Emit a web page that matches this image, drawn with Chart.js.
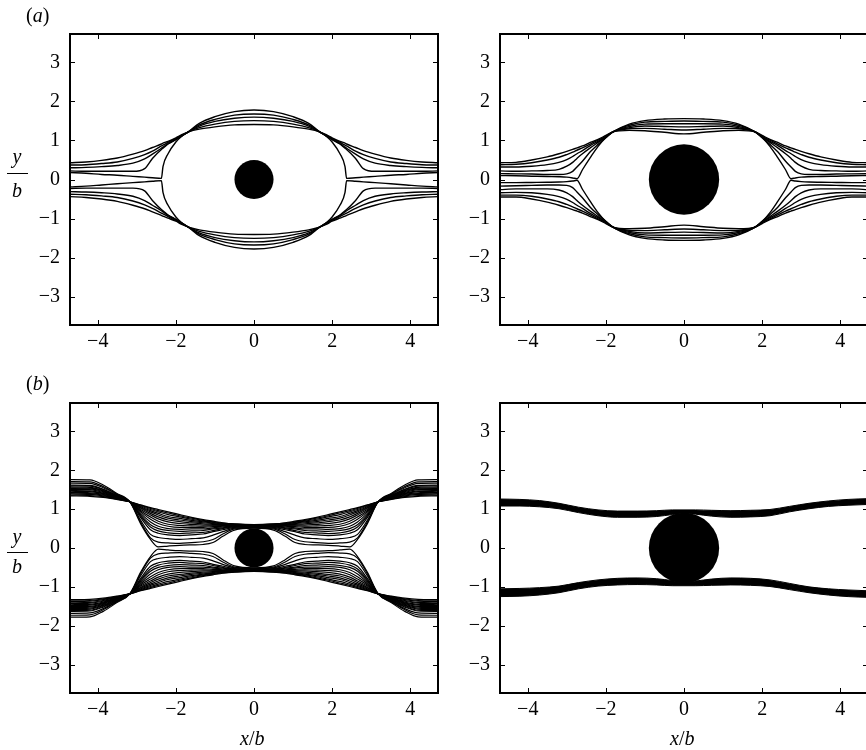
<!DOCTYPE html>
<html>
<head>
<meta charset="utf-8">
<script src="https://cdn.jsdelivr.net/npm/chart.js@4"></script>
<style>
  body { margin: 0; width: 866px; height: 750px; overflow: hidden; position: relative; background: #fff;
         font-family: 'Liberation Serif', 'Times New Roman', serif; color: #000; }
  canvas { position: absolute; }
  .t { position: absolute; font-size: 20px; line-height: 20px; white-space: nowrap; }
  .c { width: 30px; text-align: center; }
  .bar { position: absolute; height: 1px; background: #000; }
</style>
</head>
<body>
<canvas id="a1" width="440" height="360" style="left:0;top:0"></canvas>
<canvas id="a2" width="440" height="360" style="left:430px;top:0"></canvas>
<canvas id="b1" width="440" height="360" style="left:0;top:369px"></canvas>
<canvas id="b2" width="440" height="360" style="left:430px;top:369px"></canvas>

<div class="t" style="left:26px;top:5px">(<i>a</i>)</div>
<div class="t" style="left:26px;top:373px">(<i>b</i>)</div>

<div class="t c" style="left:2px;top:146px"><i>y</i></div>
<div class="bar" style="left:7px;top:173px;width:21px"></div>
<div class="t c" style="left:2px;top:180px"><i>b</i></div>

<div class="t c" style="left:2px;top:526px"><i>y</i></div>
<div class="bar" style="left:7px;top:552px;width:21px"></div>
<div class="t c" style="left:2px;top:556px"><i>b</i></div>

<div class="t" style="left:240px;top:728px"><i>x</i>/<i>b</i></div>
<div class="t" style="left:670px;top:728px"><i>x</i>/<i>b</i></div>

<script>
// axes
const xMin = -4.71, xMax = 4.71;
const yMin = -3.73, yMax = 3.73;
const xTicks = [-4, -2, 0, 2, 4];
const yTicks = [-3, -2, -1, 0, 1, 2, 3];

// cylinder radii (a-left, a-right, b-left, b-right)
const radii = [0.5, 0.9, 0.5, 0.9];

// (a) left
const a1x = [-4.71,-4.3,-3.9,-3.5,-3.1,-2.8,-2.6,-2.37,-2.33,-2.2,-2.0,-1.85,-1.68,-1.4,-1.0,-0.5,0,0.5,1.0,1.4,1.68,1.85,2.0,2.2,2.33,2.37,2.6,2.8,3.1,3.5,3.9,4.3,4.71];
const a1Up1 = [0.43,0.45,0.49,0.55,0.65,0.74,0.82,0.91,0.93,0.98,1.07,1.15,1.22,1.29,1.35,1.40,1.41,1.40,1.35,1.29,1.22,1.15,1.07,0.98,0.93,0.91,0.82,0.74,0.65,0.55,0.49,0.45,0.43];
const a1Up2 = [0.37,0.38,0.41,0.45,0.54,0.64,0.73,0.86,0.88,0.95,1.05,1.13,1.22,1.33,1.42,1.49,1.51,1.49,1.42,1.33,1.22,1.13,1.05,0.95,0.88,0.86,0.73,0.64,0.54,0.45,0.41,0.38,0.37];
const a1Up3 = [0.30,0.31,0.33,0.36,0.42,0.53,0.65,0.80,0.83,0.92,1.03,1.12,1.22,1.37,1.49,1.57,1.60,1.57,1.49,1.37,1.22,1.12,1.03,0.92,0.83,0.80,0.65,0.53,0.42,0.36,0.33,0.31,0.30];
const a1Up4 = [0.22,0.21,0.21,0.21,0.21,0.28,0.54,0.77,0.80,0.91,1.02,1.11,1.22,1.40,1.54,1.65,1.68,1.65,1.54,1.40,1.22,1.11,1.02,0.91,0.80,0.77,0.54,0.28,0.21,0.21,0.21,0.21,0.22];
const a1Up5 = [0.18,0.16,0.13,0.11,0.08,0.06,0.045,0.03,0.33,0.66,0.96,1.11,1.22,1.44,1.61,1.74,1.78,1.74,1.61,1.44,1.22,1.11,0.96,0.66,0.33,0.03,0.045,0.06,0.08,0.11,0.13,0.16,0.18];
const a1Lo1 = [-0.44,-0.46,-0.50,-0.56,-0.66,-0.75,-0.83,-0.92,-0.94,-0.99,-1.07,-1.15,-1.22,-1.29,-1.35,-1.40,-1.41,-1.40,-1.35,-1.29,-1.22,-1.15,-1.07,-0.99,-0.94,-0.92,-0.83,-0.75,-0.66,-0.56,-0.50,-0.46,-0.44];
const a1Lo2 = [-0.38,-0.39,-0.42,-0.46,-0.55,-0.65,-0.74,-0.86,-0.88,-0.95,-1.05,-1.13,-1.22,-1.33,-1.42,-1.49,-1.51,-1.49,-1.42,-1.33,-1.22,-1.13,-1.05,-0.95,-0.88,-0.86,-0.74,-0.65,-0.55,-0.46,-0.42,-0.39,-0.38];
const a1Lo3 = [-0.31,-0.32,-0.34,-0.37,-0.43,-0.54,-0.66,-0.80,-0.83,-0.92,-1.03,-1.12,-1.22,-1.37,-1.49,-1.57,-1.60,-1.57,-1.49,-1.37,-1.22,-1.12,-1.03,-0.92,-0.83,-0.80,-0.66,-0.54,-0.43,-0.37,-0.34,-0.32,-0.31];
const a1Lo4 = [-0.23,-0.22,-0.22,-0.22,-0.22,-0.29,-0.54,-0.77,-0.80,-0.91,-1.02,-1.11,-1.22,-1.40,-1.54,-1.65,-1.68,-1.65,-1.54,-1.40,-1.22,-1.11,-1.02,-0.91,-0.80,-0.77,-0.54,-0.29,-0.22,-0.22,-0.22,-0.22,-0.23];
const a1Lo5 = [-0.19,-0.17,-0.14,-0.11,-0.08,-0.06,-0.045,-0.03,-0.33,-0.66,-0.96,-1.11,-1.22,-1.44,-1.61,-1.74,-1.78,-1.74,-1.61,-1.44,-1.22,-1.11,-0.96,-0.66,-0.33,-0.03,-0.045,-0.06,-0.08,-0.11,-0.14,-0.17,-0.19];

// (a) right
const a2x = [-4.71,-4.3,-3.9,-3.5,-3.2,-3.0,-2.85,-2.74,-2.6,-2.4,-2.2,-2.0,-1.82,-1.4,-1.0,-0.5,0,0.5,1.0,1.4,1.82,2.0,2.2,2.4,2.6,2.74,2.85,3.0,3.2,3.5,3.9,4.3,4.71];
const a2Up1 = [0.43,0.44,0.50,0.58,0.66,0.72,0.77,0.81,0.86,0.95,1.03,1.13,1.22,1.26,1.25,1.21,1.17,1.21,1.25,1.26,1.22,1.13,1.03,0.95,0.86,0.81,0.77,0.72,0.66,0.58,0.50,0.44,0.43];
const a2Up2 = [0.38,0.39,0.43,0.50,0.57,0.64,0.70,0.75,0.81,0.91,1.01,1.11,1.22,1.30,1.31,1.29,1.27,1.29,1.31,1.30,1.22,1.11,1.01,0.91,0.81,0.75,0.70,0.64,0.57,0.50,0.43,0.39,0.38];
const a2Up3 = [0.32,0.32,0.34,0.38,0.44,0.51,0.59,0.66,0.74,0.87,0.98,1.10,1.22,1.33,1.37,1.36,1.35,1.36,1.37,1.33,1.22,1.10,0.98,0.87,0.74,0.66,0.59,0.51,0.44,0.38,0.34,0.32,0.32];
const a2Up4 = [0.22,0.21,0.22,0.23,0.26,0.34,0.44,0.54,0.66,0.81,0.95,1.09,1.22,1.36,1.42,1.43,1.43,1.43,1.42,1.36,1.22,1.09,0.95,0.81,0.66,0.54,0.44,0.34,0.26,0.23,0.22,0.21,0.22];
const a2Up5 = [0.15,0.145,0.14,0.13,0.13,0.145,0.21,0.32,0.47,0.71,0.90,1.07,1.22,1.39,1.47,1.49,1.50,1.49,1.47,1.39,1.22,1.07,0.90,0.71,0.47,0.32,0.21,0.145,0.13,0.13,0.14,0.145,0.15];
const a2Up6 = [0.10,0.095,0.085,0.075,0.07,0.06,0.04,0.02,0.25,0.56,0.85,1.08,1.22,1.42,1.51,1.55,1.56,1.55,1.51,1.42,1.22,1.08,0.85,0.56,0.25,0.02,0.04,0.06,0.07,0.075,0.085,0.095,0.10];
const a2Lo1 = [-0.45,-0.45,-0.50,-0.58,-0.66,-0.72,-0.77,-0.81,-0.86,-0.95,-1.03,-1.13,-1.22,-1.26,-1.25,-1.21,-1.17,-1.21,-1.25,-1.26,-1.22,-1.13,-1.03,-0.95,-0.86,-0.81,-0.77,-0.72,-0.66,-0.58,-0.50,-0.45,-0.45];
const a2Lo2 = [-0.40,-0.40,-0.43,-0.50,-0.57,-0.64,-0.70,-0.75,-0.81,-0.91,-1.01,-1.11,-1.22,-1.30,-1.31,-1.29,-1.27,-1.29,-1.31,-1.30,-1.22,-1.11,-1.01,-0.91,-0.81,-0.75,-0.70,-0.64,-0.57,-0.50,-0.43,-0.40,-0.40];
const a2Lo3 = [-0.34,-0.33,-0.34,-0.38,-0.44,-0.51,-0.59,-0.66,-0.74,-0.87,-0.98,-1.10,-1.22,-1.33,-1.37,-1.36,-1.35,-1.36,-1.37,-1.33,-1.22,-1.10,-0.98,-0.87,-0.74,-0.66,-0.59,-0.51,-0.44,-0.38,-0.34,-0.33,-0.34];
const a2Lo4 = [-0.26,-0.24,-0.24,-0.24,-0.27,-0.34,-0.44,-0.54,-0.66,-0.81,-0.95,-1.09,-1.22,-1.36,-1.42,-1.43,-1.43,-1.43,-1.42,-1.36,-1.22,-1.09,-0.95,-0.81,-0.66,-0.54,-0.44,-0.34,-0.27,-0.24,-0.24,-0.24,-0.26];
const a2Lo5 = [-0.17,-0.16,-0.15,-0.14,-0.14,-0.15,-0.21,-0.32,-0.47,-0.71,-0.90,-1.07,-1.22,-1.39,-1.47,-1.49,-1.50,-1.49,-1.47,-1.39,-1.22,-1.07,-0.90,-0.71,-0.47,-0.32,-0.21,-0.15,-0.14,-0.14,-0.15,-0.16,-0.17];
const a2Lo6 = [-0.08,-0.08,-0.075,-0.07,-0.065,-0.055,-0.04,-0.02,-0.25,-0.56,-0.85,-1.08,-1.22,-1.42,-1.51,-1.55,-1.56,-1.55,-1.51,-1.42,-1.22,-1.08,-0.85,-0.56,-0.25,-0.02,-0.04,-0.055,-0.065,-0.07,-0.075,-0.08,-0.08];

// (b) left: upper fan (top envelope first, cusp line last), then lower fan
const b1x = [-4.71,-4.2,-3.86,-3.52,-3.18,-2.9,-2.65,-2.45,-2.2,-1.9,-1.6,-1.3,-1.05,-0.8,-0.5,0,0.5,0.8,1.05,1.3,1.6,1.9,2.2,2.45,2.65,2.9,3.18,3.52,3.86,4.2,4.71];
const b1Up = [
  [1.34,1.33,1.30,1.25,1.19,1.11,1.04,0.99,0.93,0.86,0.79,0.73,0.69,0.65,0.62,0.60,0.62,0.65,0.69,0.73,0.79,0.86,0.93,0.99,1.04,1.11,1.19,1.25,1.30,1.33,1.34],
  [1.36,1.35,1.32,1.26,1.19,1.10,1.02,0.96,0.90,0.83,0.77,0.71,0.675,0.64,0.615,0.595,0.615,0.64,0.675,0.71,0.77,0.83,0.90,0.96,1.02,1.10,1.19,1.26,1.32,1.35,1.36],
  [1.39,1.38,1.34,1.27,1.19,1.08,0.99,0.93,0.86,0.80,0.74,0.69,0.66,0.63,0.61,0.59,0.61,0.63,0.66,0.69,0.74,0.80,0.86,0.93,0.99,1.08,1.19,1.27,1.34,1.38,1.39],
  [1.41,1.40,1.36,1.28,1.19,1.06,0.96,0.89,0.81,0.76,0.71,0.67,0.645,0.62,0.605,0.585,0.605,0.62,0.645,0.67,0.71,0.76,0.81,0.89,0.96,1.06,1.19,1.28,1.36,1.40,1.41],
  [1.43,1.42,1.38,1.29,1.19,1.04,0.93,0.85,0.77,0.72,0.68,0.65,0.63,0.61,0.60,0.58,0.60,0.61,0.63,0.65,0.68,0.72,0.77,0.85,0.93,1.04,1.19,1.29,1.38,1.42,1.43],
  [1.46,1.45,1.40,1.30,1.19,1.02,0.89,0.80,0.72,0.68,0.645,0.62,0.61,0.60,0.59,0.575,0.59,0.60,0.61,0.62,0.645,0.68,0.72,0.80,0.89,1.02,1.19,1.30,1.40,1.45,1.46],
  [1.48,1.47,1.41,1.31,1.19,0.99,0.85,0.75,0.67,0.63,0.61,0.59,0.59,0.59,0.58,0.57,0.58,0.59,0.59,0.59,0.61,0.63,0.67,0.75,0.85,0.99,1.19,1.31,1.41,1.47,1.48],
  [1.51,1.50,1.43,1.32,1.19,0.96,0.80,0.69,0.61,0.58,0.57,0.56,0.57,0.575,0.575,0.565,0.575,0.575,0.57,0.56,0.57,0.58,0.61,0.69,0.80,0.96,1.19,1.32,1.43,1.50,1.51],
  [1.53,1.52,1.45,1.33,1.19,0.93,0.74,0.63,0.56,0.53,0.53,0.53,0.55,0.56,0.57,0.56,0.57,0.56,0.55,0.53,0.53,0.53,0.56,0.63,0.74,0.93,1.19,1.33,1.45,1.52,1.53],
  [1.55,1.54,1.47,1.34,1.19,0.89,0.67,0.56,0.50,0.48,0.49,0.49,0.52,0.54,0.56,0.555,0.56,0.54,0.52,0.49,0.49,0.48,0.50,0.56,0.67,0.89,1.19,1.34,1.47,1.54,1.55],
  [1.57,1.56,1.48,1.34,1.19,0.85,0.60,0.50,0.45,0.43,0.44,0.45,0.49,0.52,0.55,0.55,0.55,0.52,0.49,0.45,0.44,0.43,0.45,0.50,0.60,0.85,1.19,1.34,1.48,1.56,1.57],
  [1.60,1.59,1.50,1.35,1.19,0.82,0.54,0.44,0.39,0.37,0.39,0.40,0.45,0.50,0.54,0.545,0.54,0.50,0.45,0.40,0.39,0.37,0.39,0.44,0.54,0.82,1.19,1.35,1.50,1.59,1.60],
  [1.62,1.61,1.51,1.36,1.19,0.78,0.47,0.38,0.34,0.32,0.34,0.36,0.42,0.47,0.53,0.54,0.53,0.47,0.42,0.36,0.34,0.32,0.34,0.38,0.47,0.78,1.19,1.36,1.51,1.61,1.62],
  [1.67,1.66,1.55,1.38,1.19,0.71,0.35,0.27,0.24,0.22,0.24,0.26,0.33,0.42,0.51,0.53,0.51,0.42,0.33,0.26,0.24,0.22,0.24,0.27,0.35,0.71,1.19,1.38,1.55,1.66,1.67],
  [1.71,1.70,1.58,1.39,1.19,0.66,0.26,0.15,0.13,0.12,0.14,0.16,0.22,0.36,0.49,0.52,0.49,0.36,0.22,0.16,0.14,0.12,0.13,0.15,0.26,0.66,1.19,1.39,1.58,1.70,1.71],
  [1.76,1.75,1.62,1.41,1.19,0.62,0.22,0.03,0.05,0.07,0.08,0.09,0.14,0.30,0.46,0.51,0.46,0.30,0.14,0.09,0.08,0.07,0.05,0.03,0.22,0.62,1.19,1.41,1.62,1.75,1.76]
];
const b1Lo = [
  [-1.33,-1.32,-1.29,-1.24,-1.18,-1.10,-1.04,-0.99,-0.93,-0.86,-0.79,-0.73,-0.69,-0.65,-0.62,-0.60,-0.62,-0.65,-0.69,-0.73,-0.79,-0.86,-0.93,-0.99,-1.04,-1.10,-1.18,-1.24,-1.29,-1.32,-1.33],
  [-1.36,-1.35,-1.31,-1.25,-1.18,-1.09,-1.02,-0.96,-0.90,-0.83,-0.77,-0.71,-0.675,-0.64,-0.615,-0.595,-0.615,-0.64,-0.675,-0.71,-0.77,-0.83,-0.90,-0.96,-1.02,-1.09,-1.18,-1.25,-1.31,-1.35,-1.36],
  [-1.38,-1.37,-1.33,-1.26,-1.18,-1.07,-0.99,-0.93,-0.86,-0.80,-0.74,-0.69,-0.66,-0.63,-0.61,-0.59,-0.61,-0.63,-0.66,-0.69,-0.74,-0.80,-0.86,-0.93,-0.99,-1.07,-1.18,-1.26,-1.33,-1.37,-1.38],
  [-1.41,-1.40,-1.35,-1.27,-1.18,-1.05,-0.96,-0.89,-0.81,-0.76,-0.71,-0.67,-0.645,-0.62,-0.605,-0.585,-0.605,-0.62,-0.645,-0.67,-0.71,-0.76,-0.81,-0.89,-0.96,-1.05,-1.18,-1.27,-1.35,-1.40,-1.41],
  [-1.43,-1.42,-1.37,-1.28,-1.18,-1.03,-0.93,-0.85,-0.77,-0.72,-0.68,-0.65,-0.63,-0.61,-0.60,-0.58,-0.60,-0.61,-0.63,-0.65,-0.68,-0.72,-0.77,-0.85,-0.93,-1.03,-1.18,-1.28,-1.37,-1.42,-1.43],
  [-1.46,-1.45,-1.39,-1.29,-1.18,-1.01,-0.89,-0.80,-0.72,-0.68,-0.645,-0.62,-0.61,-0.60,-0.59,-0.575,-0.59,-0.60,-0.61,-0.62,-0.645,-0.68,-0.72,-0.80,-0.89,-1.01,-1.18,-1.29,-1.39,-1.45,-1.46],
  [-1.48,-1.47,-1.41,-1.30,-1.18,-0.98,-0.85,-0.75,-0.67,-0.63,-0.61,-0.59,-0.59,-0.59,-0.58,-0.57,-0.58,-0.59,-0.59,-0.59,-0.61,-0.63,-0.67,-0.75,-0.85,-0.98,-1.18,-1.30,-1.41,-1.47,-1.48],
  [-1.51,-1.50,-1.43,-1.31,-1.18,-0.95,-0.80,-0.69,-0.61,-0.58,-0.57,-0.56,-0.57,-0.575,-0.575,-0.565,-0.575,-0.575,-0.57,-0.56,-0.57,-0.58,-0.61,-0.69,-0.80,-0.95,-1.18,-1.31,-1.43,-1.50,-1.51],
  [-1.53,-1.52,-1.45,-1.32,-1.18,-0.92,-0.74,-0.63,-0.56,-0.53,-0.53,-0.53,-0.55,-0.56,-0.57,-0.56,-0.57,-0.56,-0.55,-0.53,-0.53,-0.53,-0.56,-0.63,-0.74,-0.92,-1.18,-1.32,-1.45,-1.52,-1.53],
  [-1.56,-1.55,-1.47,-1.33,-1.18,-0.89,-0.67,-0.56,-0.50,-0.48,-0.49,-0.49,-0.52,-0.54,-0.56,-0.555,-0.56,-0.54,-0.52,-0.49,-0.49,-0.48,-0.50,-0.56,-0.67,-0.89,-1.18,-1.33,-1.47,-1.55,-1.56],
  [-1.58,-1.57,-1.48,-1.34,-1.18,-0.85,-0.60,-0.50,-0.45,-0.43,-0.44,-0.45,-0.49,-0.52,-0.55,-0.55,-0.55,-0.52,-0.49,-0.45,-0.44,-0.43,-0.45,-0.50,-0.60,-0.85,-1.18,-1.34,-1.48,-1.57,-1.58],
  [-1.61,-1.60,-1.50,-1.35,-1.18,-0.82,-0.54,-0.44,-0.39,-0.37,-0.39,-0.40,-0.45,-0.50,-0.54,-0.545,-0.54,-0.50,-0.45,-0.40,-0.39,-0.37,-0.39,-0.44,-0.54,-0.82,-1.18,-1.35,-1.50,-1.60,-1.61],
  [-1.63,-1.62,-1.52,-1.36,-1.18,-0.78,-0.47,-0.38,-0.34,-0.32,-0.34,-0.36,-0.42,-0.47,-0.53,-0.54,-0.53,-0.47,-0.42,-0.36,-0.34,-0.32,-0.34,-0.38,-0.47,-0.78,-1.18,-1.36,-1.52,-1.62,-1.63],
  [-1.68,-1.67,-1.56,-1.38,-1.18,-0.71,-0.35,-0.27,-0.24,-0.22,-0.24,-0.26,-0.33,-0.42,-0.51,-0.53,-0.51,-0.42,-0.33,-0.26,-0.24,-0.22,-0.24,-0.27,-0.35,-0.71,-1.18,-1.38,-1.56,-1.67,-1.68],
  [-1.73,-1.72,-1.59,-1.39,-1.18,-0.66,-0.26,-0.15,-0.13,-0.12,-0.14,-0.16,-0.22,-0.36,-0.49,-0.52,-0.49,-0.36,-0.22,-0.16,-0.14,-0.12,-0.13,-0.15,-0.26,-0.66,-1.18,-1.39,-1.59,-1.72,-1.73],
  [-1.78,-1.77,-1.63,-1.41,-1.18,-0.62,-0.22,-0.03,-0.05,-0.07,-0.08,-0.09,-0.14,-0.30,-0.46,-0.51,-0.46,-0.30,-0.14,-0.09,-0.08,-0.07,-0.05,-0.03,-0.22,-0.62,-1.18,-1.41,-1.63,-1.77,-1.78]
];

// (b) right: two ribbons, outer and inner edges
const b2x = [-4.71,-4.2,-3.7,-3.2,-2.7,-2.2,-1.7,-1.2,-0.7,-0.3,0,0.3,0.7,1.2,1.7,2.2,2.7,3.2,3.7,4.2,4.71];
const b2UpOuter = [1.26,1.25,1.22,1.15,1.05,0.98,0.95,0.95,0.96,0.98,0.98,0.98,0.97,0.96,0.97,0.99,1.07,1.15,1.21,1.25,1.27];
const b2UpInner = [1.08,1.08,1.06,1.01,0.91,0.83,0.79,0.79,0.81,0.86,0.89,0.87,0.82,0.79,0.80,0.83,0.93,1.01,1.07,1.10,1.12];
const b2LoInner = [-1.05,-1.04,-1.02,-0.98,-0.89,-0.82,-0.78,-0.77,-0.79,-0.84,-0.89,-0.85,-0.80,-0.77,-0.78,-0.82,-0.91,-1.00,-1.05,-1.08,-1.10];
const b2LoOuter = [-1.25,-1.24,-1.21,-1.15,-1.05,-0.98,-0.95,-0.94,-0.95,-0.97,-0.97,-0.97,-0.96,-0.95,-0.96,-0.99,-1.07,-1.15,-1.21,-1.25,-1.27];

const tickFont = { family: "'Liberation Serif', 'Times New Roman', serif", size: 20 };
const fmt = v => (v < 0 ? '\u2212' : '') + Math.abs(v);

const lineStyle = { borderColor: '#000', borderWidth: 1.4, pointRadius: 0, cubicInterpolationMode: 'monotone', fill: false };

function pts(xs, ys) {
  return xs.map((x, i) => ({ x: x, y: ys[i] }));
}

function curves(xs, list, width) {
  return list.map(ys => Object.assign({ type: 'line', data: pts(xs, ys) }, lineStyle, width ? { borderWidth: width } : {}));
}

function ribbon(xs, edgeA, edgeB) {
  return [
    Object.assign({ type: 'line', data: pts(xs, edgeA) }, lineStyle, { borderWidth: 1 }),
    Object.assign({ type: 'line', data: pts(xs, edgeB) }, lineStyle, { borderWidth: 1, fill: '-1', backgroundColor: '#000' })
  ];
}

function disc(r) {
  const rad = ctx => {
    const s = ctx.chart.scales.x;
    return s.getPixelForValue(r) - s.getPixelForValue(0);
  };
  return { type: 'scatter', data: [{ x: 0, y: 0 }], pointRadius: rad, pointHoverRadius: rad,
           backgroundColor: '#000', borderWidth: 0, pointStyle: 'circle' };
}

// box frame with inward ticks on all four sides
const frame = {
  id: 'frame',
  afterDraw(chart) {
    const { ctx, chartArea: a } = chart;
    const sx = chart.scales.x, sy = chart.scales.y;
    ctx.save();
    ctx.strokeStyle = '#000';
    ctx.lineWidth = 1;
    ctx.beginPath();
    sx.ticks.forEach(t => {
      const p = Math.round(sx.getPixelForValue(t.value)) + 0.5;
      ctx.moveTo(p, a.bottom); ctx.lineTo(p, a.bottom - 5);
      ctx.moveTo(p, a.top); ctx.lineTo(p, a.top + 5);
    });
    sy.ticks.forEach(t => {
      const p = Math.round(sy.getPixelForValue(t.value)) + 0.5;
      ctx.moveTo(a.left, p); ctx.lineTo(a.left + 5, p);
      ctx.moveTo(a.right, p); ctx.lineTo(a.right - 5, p);
    });
    ctx.stroke();
    ctx.lineWidth = 2;
    ctx.strokeRect(a.left, a.top, a.right - a.left, a.bottom - a.top);
    ctx.restore();
  }
};

function panel(id, area, datasets) {
  const c = document.getElementById(id);
  const W = c.width, H = c.height;
  new Chart(c, {
    type: 'line',
    data: { datasets: datasets },
    options: {
      responsive: false,
      animation: false,
      events: [],
      layout: { padding: { left: 0, top: area.t, right: W - area.r, bottom: 0 } },
      plugins: { legend: { display: false }, tooltip: { enabled: false } },
      scales: {
        x: {
          type: 'linear', position: 'bottom', min: xMin, max: xMax,
          grid: { display: false, drawTicks: false }, border: { display: false },
          afterBuildTicks: s => { s.ticks = xTicks.map(v => ({ value: v })); },
          afterFit: s => { s.height = H - area.b; },
          ticks: { padding: 5, color: '#000', font: tickFont, callback: fmt, maxRotation: 0, autoSkip: false }
        },
        y: {
          type: 'linear', position: 'left', min: yMin, max: yMax,
          grid: { display: false, drawTicks: false }, border: { display: false },
          afterBuildTicks: s => { s.ticks = yTicks.map(v => ({ value: v })); },
          afterFit: s => { s.width = area.l; },
          ticks: { padding: 10, color: '#000', font: tickFont, callback: fmt, autoSkip: false }
        }
      }
    },
    plugins: [frame]
  });
}

const topArea = { l: 70, t: 34, r: 438, b: 325 };
const botArea = { l: 70, t: 34, r: 438, b: 324 };

panel('a1', topArea, curves(a1x, [a1Up1, a1Up2, a1Up3, a1Up4, a1Up5, a1Lo1, a1Lo2, a1Lo3, a1Lo4, a1Lo5]).concat([disc(radii[0])]));
panel('a2', topArea, curves(a2x, [a2Up1, a2Up2, a2Up3, a2Up4, a2Up5, a2Up6, a2Lo1, a2Lo2, a2Lo3, a2Lo4, a2Lo5, a2Lo6]).concat([disc(radii[1])]));
panel('b1', botArea, curves(b1x, b1Up.concat(b1Lo), 1.2).concat([disc(radii[2])]));
panel('b2', botArea, ribbon(b2x, b2UpOuter, b2UpInner).concat(ribbon(b2x, b2LoInner, b2LoOuter)).concat([disc(radii[3])]));
</script>
</body>
</html>
